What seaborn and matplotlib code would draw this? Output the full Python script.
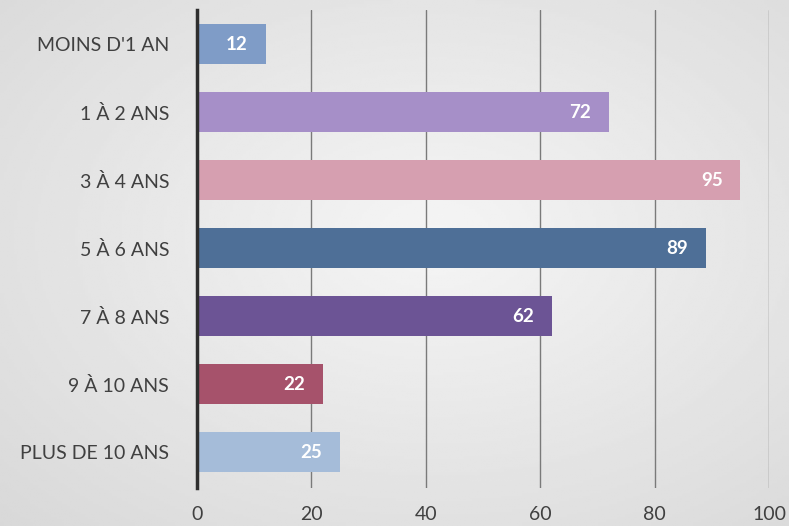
import numpy as np
import pandas as pd
import matplotlib
matplotlib.use("Agg")
import matplotlib.pyplot as plt
import seaborn as sns

categories = ["MOINS D'1 AN", "1 À 2 ANS", "3 À 4 ANS", "5 À 6 ANS", "7 À 8 ANS", "9 À 10 ANS", "PLUS DE 10 ANS"]
values = [12, 72, 95, 89, 62, 22, 25]
colors = ["#7f9cc7", "#a68fc8", "#d69fb0", "#4e6f97", "#6c5495", "#a6526b", "#a5bcd9"]
xticks = [0, 20, 40, 60, 80, 100]

sns.set_theme(style="white")
plt.rcParams['font.family'] = ['Lato', 'DejaVu Sans']

fig = plt.figure(figsize=(7.89, 5.26), dpi=100)

# background gradient
bg = fig.add_axes([0, 0, 1, 1], zorder=0)
yy, xx = np.mgrid[0:1:200j, 0:1:300j]
r = np.sqrt(((xx - 0.55) / 0.9) ** 2 + ((yy - 0.45) / 0.9) ** 2)
img = 0.96 - 0.13 * r
bg.imshow(img, cmap="gray", vmin=0, vmax=1, extent=[0, 1, 0, 1], aspect="auto")
bg.axis("off")

ax = fig.add_axes([0.2497, 0.072, 0.725, 0.909], zorder=1)
ax.patch.set_alpha(0)

df = pd.DataFrame({"cat": categories, "val": values})
sns.barplot(data=df, x="val", y="cat", hue="cat", palette=colors, legend=False,
            orient="h", width=0.59, ax=ax, zorder=3, saturation=1, linewidth=0)

ax.set_xlim(0, 100)
ax.set_ylim(6.53, -0.5)
ax.set_xticks(xticks)
ax.set_xlabel("")
ax.set_ylabel("")
for x in xticks[1:]:
    ax.axvline(x, color="#7a7a7a", lw=1.0, zorder=1)
for s in ["top", "right", "bottom"]:
    ax.spines[s].set_visible(False)
ax.spines["left"].set_color("#2e2e2e")
ax.spines["left"].set_linewidth(2.5)
ax.spines["left"].set_zorder(5)
ax.tick_params(axis="x", length=0, pad=13, labelsize=14, labelcolor="#404040")
ax.tick_params(axis="y", length=0, pad=20, labelsize=14, labelcolor="#404040")

for i, v in enumerate(values):
    ax.text(v - 5.0, i, str(v), ha="center", va="center", color="white",
            fontsize=13.5, fontweight="bold", zorder=6)

fig.savefig("out.png", dpi=100)
